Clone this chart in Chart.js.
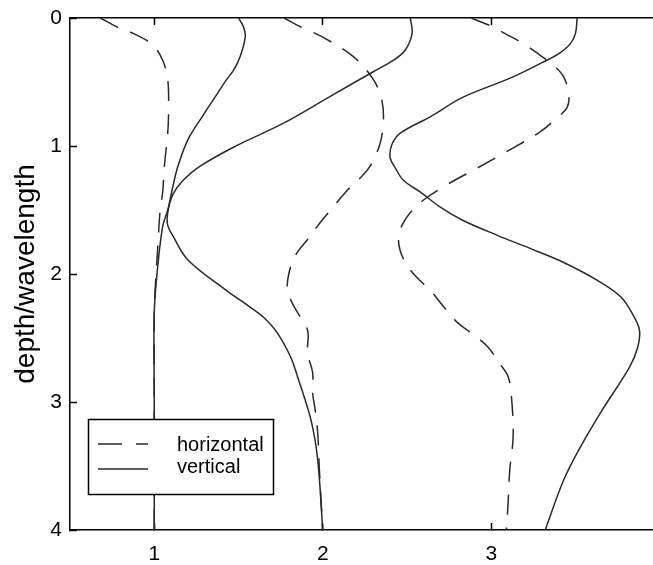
<!DOCTYPE html>
<html>
<head>
<meta charset="utf-8">
<script src="https://cdn.jsdelivr.net/npm/chart.js@4.4.1/dist/chart.umd.min.js"></script>
<style>
  html, body { margin: 0; padding: 0; background: #fff; overflow: hidden; }
</style>
</head>
<body>
<canvas id="profileChart" width="653" height="565"></canvas>
<script>
// axis ticks and legend text
const xTicks = [1, 2, 3];
const depthTicks = [0, 1, 2, 3, 4];
const legendLabels = ['horizontal', 'vertical'];

// [x, depth/wavelength] pairs
const horizontal1 = [[0.68,0],[0.78,0.07],[0.875,0.12],[0.99,0.21],[1.05,0.33],[1.08,0.48],[1.085,0.72],[1.08,0.9],[1.06,1.16],[1.05,1.36],[1.035,1.5],[1.02,1.81],[1.005,2.13],[1.0,2.3],[1.0,3.0],[1.0,4.0]];
const vertical1 = [[1.5,0],[1.53,0.07],[1.54,0.15],[1.51,0.3],[1.47,0.41],[1.43,0.48],[1.35,0.64],[1.29,0.76],[1.2,0.95],[1.14,1.16],[1.11,1.32],[1.08,1.5],[1.05,1.63],[1.02,1.95],[1.0,2.3],[1.0,3.0],[1.0,4.0]];

const horizontal2 = [[1.77,0],[1.87,0.07],[2.0,0.15],[2.18,0.3],[2.3,0.48],[2.35,0.64],[2.36,0.8],[2.34,0.98],[2.28,1.16],[2.2,1.28],[2.15,1.34],[2.06,1.48],[1.99,1.59],[1.91,1.73],[1.84,1.85],[1.8,1.99],[1.79,2.13],[1.82,2.23],[1.85,2.3],[1.91,2.44],[1.91,2.62],[1.94,2.77],[1.94,2.93],[1.955,3.06],[1.97,3.24],[1.98,3.53],[2.0,4.0]];
const vertical2 = [[2.52,0],[2.53,0.12],[2.49,0.25],[2.42,0.33],[2.3,0.42],[2.06,0.6],[1.77,0.82],[1.47,1.01],[1.27,1.16],[1.17,1.27],[1.11,1.38],[1.08,1.52],[1.08,1.62],[1.11,1.7],[1.2,1.89],[1.43,2.13],[1.57,2.26],[1.65,2.34],[1.73,2.46],[1.81,2.65],[1.85,2.8],[1.93,3.14],[1.97,3.45],[2.0,4.0]];

const horizontal3 = [[2.88,0],[3.01,0.07],[3.08,0.12],[3.19,0.2],[3.31,0.31],[3.37,0.37],[3.43,0.46],[3.46,0.6],[3.45,0.7],[3.39,0.78],[3.29,0.89],[3.11,1.03],[2.92,1.17],[2.74,1.3],[2.6,1.42],[2.52,1.52],[2.47,1.62],[2.45,1.72],[2.46,1.82],[2.5,1.93],[2.56,2.03],[2.64,2.13],[2.72,2.26],[2.8,2.38],[2.88,2.46],[2.98,2.57],[3.05,2.7],[3.1,2.8],[3.12,2.96],[3.13,3.27],[3.11,3.53],[3.1,3.79],[3.09,4.0]];
const vertical3 = [[3.51,0],[3.5,0.12],[3.47,0.2],[3.41,0.27],[3.33,0.33],[3.13,0.46],[2.83,0.62],[2.64,0.77],[2.46,0.9],[2.41,0.99],[2.4,1.09],[2.43,1.17],[2.48,1.27],[2.58,1.36],[2.7,1.48],[2.83,1.58],[3.04,1.7],[3.23,1.8],[3.43,1.91],[3.63,2.05],[3.77,2.18],[3.85,2.34],[3.88,2.44],[3.87,2.57],[3.82,2.73],[3.66,3.06],[3.53,3.35],[3.43,3.61],[3.32,4.0]];

const X_MIN = 0.5, X_MAX = 3.96;
const LINE_COLOR = '#2a2a2a';
const DASH = [20, 13];
const TICK_IN = -7; // negative tick length => tick marks point into the plot

Chart.defaults.font.family = "'Liberation Sans', Arial, sans-serif";
Chart.defaults.color = '#000';

const toPoints = arr => arr.map(([x, d]) => ({ x: x, y: d }));

function curve(label, arr, dashed) {
    return {
        label: label,
        data: toPoints(arr),
        showLine: true,
        pointRadius: 0,
        borderColor: LINE_COLOR,
        borderWidth: 1.5,
        borderDash: dashed ? DASH : [],
        tension: 0.35,
        fill: false
    };
}

const tickGrid = {
    display: true,
    drawOnChartArea: false,
    drawTicks: true,
    tickLength: TICK_IN,
    tickColor: '#000',
    tickWidth: 1.5
};
const axisBorder = { display: true, color: '#000', width: 1.5 };

// boxed legend in lower left, opaque like the original
const boxLegend = {
    id: 'boxLegend',
    afterDraw(chart) {
        const { ctx, chartArea } = chart;
        const bx = chartArea.left + 18, by = chartArea.bottom - 111;
        const bw = 185, bh = 75;
        ctx.save();
        ctx.fillStyle = '#fff';
        ctx.fillRect(bx, by, bw, bh);
        ctx.strokeStyle = '#000';
        ctx.lineWidth = 1.5;
        ctx.strokeRect(bx + 0.5, by + 0.5, bw, bh);

        ctx.strokeStyle = LINE_COLOR;
        const rows = [by + 25, by + 50];
        ctx.setLineDash([24, 14]);
        ctx.beginPath();
        ctx.moveTo(bx + 10, rows[0]); ctx.lineTo(bx + 60, rows[0]);
        ctx.stroke();
        ctx.setLineDash([]);
        ctx.beginPath();
        ctx.moveTo(bx + 10, rows[1]); ctx.lineTo(bx + 60, rows[1]);
        ctx.stroke();

        ctx.fillStyle = '#000';
        ctx.font = "20px 'Liberation Sans', Arial, sans-serif";
        ctx.textBaseline = 'middle';
        ctx.textAlign = 'left';
        ctx.fillText(legendLabels[0], bx + 89, rows[0] + 1);
        ctx.fillText(legendLabels[1], bx + 89, rows[1] - 2);
        ctx.restore();
    }
};

const ctx = document.getElementById('profileChart').getContext('2d');
new Chart(ctx, {
    type: 'scatter',
    data: {
        datasets: [
            curve(legendLabels[0], horizontal1, true),
            curve(legendLabels[1], vertical1, false),
            curve(legendLabels[0], horizontal2, true),
            curve(legendLabels[1], vertical2, false),
            curve(legendLabels[0], horizontal3, true),
            curve(legendLabels[1], vertical3, false)
        ]
    },
    options: {
        responsive: false,
        animation: false,
        layout: { padding: 0 },
        plugins: {
            legend: { display: false },
            tooltip: { enabled: false }
        },
        scales: {
            x: {
                type: 'linear',
                position: 'bottom',
                min: X_MIN,
                max: X_MAX,
                afterBuildTicks: s => { s.ticks = xTicks.map(v => ({ value: v })); },
                afterFit: s => { s.height = 35; s.paddingLeft = 0; s.paddingRight = 0; },
                ticks: { font: { size: 21 }, padding: 12 - TICK_IN, color: '#000' },
                grid: tickGrid,
                border: axisBorder
            },
            xTop: {
                type: 'linear',
                position: 'top',
                min: X_MIN,
                max: X_MAX,
                afterBuildTicks: s => { s.ticks = xTicks.map(v => ({ value: v })); },
                afterFit: s => { s.height = 18; s.paddingLeft = 0; s.paddingRight = 0; },
                ticks: { display: false },
                grid: tickGrid,
                border: axisBorder
            },
            y: {
                type: 'linear',
                position: 'left',
                min: 0,
                max: 4,
                reverse: true,
                afterBuildTicks: s => { s.ticks = depthTicks.map(v => ({ value: v })); },
                afterFit: s => { s.width = 70; s.paddingTop = 0; s.paddingBottom = 0; },
                ticks: { font: { size: 21 }, padding: 8 - TICK_IN, color: '#000' },
                grid: tickGrid,
                border: axisBorder,
                title: {
                    display: true,
                    text: 'depth/wavelength',
                    font: { size: 28 },
                    color: '#000',
                    padding: { top: 9, bottom: 0 }
                }
            }
        }
    },
    plugins: [boxLegend]
});
</script>
</body>
</html>
